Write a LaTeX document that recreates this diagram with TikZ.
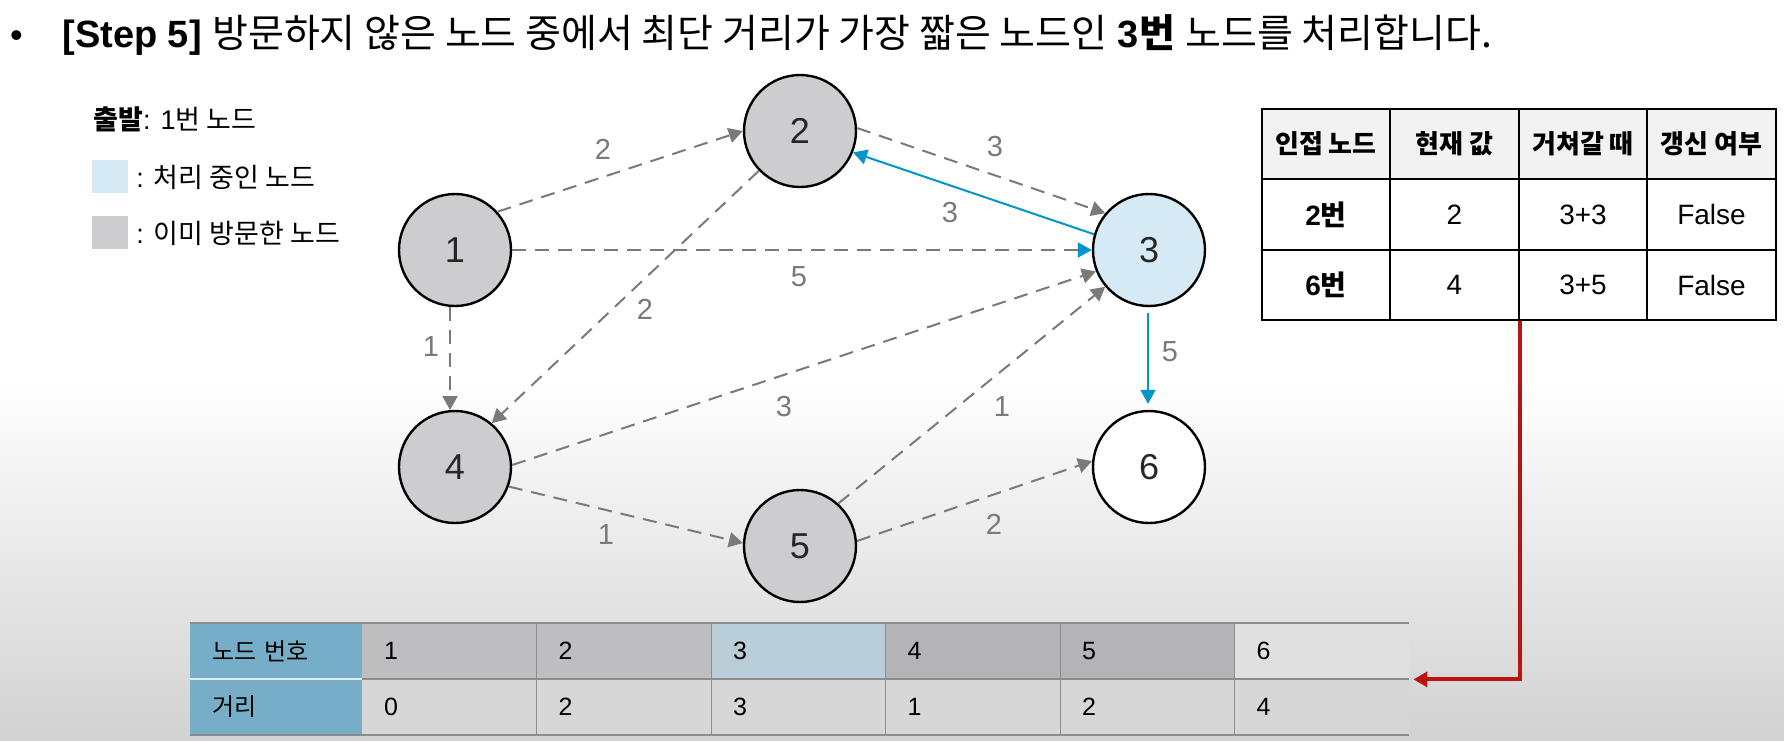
\documentclass[tikz,border=0pt]{standalone}
\usepackage{fontspec}
\setmainfont{Liberation Sans}
\newfontfamily\kr{Noto Sans CJK KR}
\usetikzlibrary{arrows.meta}
\definecolor{nodegray}{RGB}{205,205,208}
\definecolor{nodeblue}{RGB}{214,234,246}
\definecolor{edgegray}{RGB}{122,122,122}
\definecolor{edgeblue}{RGB}{0,150,205}
\definecolor{arrowred}{RGB}{185,20,15}
\definecolor{headgray}{RGB}{242,242,242}
\definecolor{bggray}{RGB}{210,210,210}
\definecolor{keyblue}{RGB}{118,174,200}
\definecolor{cellgray}{RGB}{190,190,192}
\definecolor{celldark}{RGB}{180,180,182}
\definecolor{cellblue}{RGB}{186,206,218}
\definecolor{celllight}{RGB}{215,215,215}
\definecolor{lastcell}{RGB}{224,224,224}
\definecolor{linegray}{RGB}{140,140,140}

\begin{document}
\begin{tikzpicture}[x=0.5pt,y=-0.5pt,
    vert/.style={circle,draw,line width=1.2pt,minimum size=56pt,inner sep=0pt,text=black!85,font=\fontsize{18}{20}\selectfont},
    wt/.style={text=edgegray,inner sep=1pt,font=\fontsize{14.5}{16}\selectfont},
    gedge/.style={edgegray,line width=1pt,dash pattern=on 7pt off 4.5pt,-{Triangle[length=7pt,width=7.5pt]}},
    bedge/.style={edgeblue,line width=1pt,-{Triangle[length=7pt,width=7.5pt]}},
    legbox/.style={rectangle,minimum width=18pt,minimum height=16.5pt,inner sep=0pt},
    legtxt/.style={anchor=west,inner sep=0pt,font=\fontsize{13.5}{15}\selectfont},
    tcell/.style={rectangle,draw,fill=white,line width=1pt,minimum width=64.25pt,minimum height=35.25pt,inner sep=0pt,font=\fontsize{14}{16}\selectfont},
    thead/.style={tcell,fill=headgray,font=\fontsize{13}{15}\selectfont},
    dkey/.style={rectangle,fill=keyblue,minimum width=86pt,minimum height=28pt,inner xsep=11pt,inner ysep=0pt,text width=64pt,align=left,font=\fontsize{12}{14}\selectfont},
    dval/.style={rectangle,minimum width=87.25pt,minimum height=28pt,inner xsep=11pt,inner ysep=0pt,text width=65.25pt,align=left,font=\fontsize{12.5}{14}\selectfont},
    redarrow/.style={arrowred,line width=2pt,-{Triangle[length=7pt,width=7.5pt]}}]
  \useasboundingbox (0,0) rectangle (1784,740);
  \fill[white] (0,0) rectangle (1784,740);
  \shade[top color=white,bottom color=bggray] (0,380) rectangle (1784,740);

  \node[anchor=base,inner sep=0pt,font=\fontsize{18}{20}\selectfont] (dot) at (16.5,47) {•};
  \node[anchor=base west,inner sep=0pt,font=\fontsize{19}{22}\selectfont\bfseries] (title) at (62,47)
    {[Step 5] {\kr\mdseries\fontsize{19.5}{22}\selectfont 방문하지 않은 노드 중에서 최단 거리가 가장 짧은 노드인} 3{\kr\fontsize{19.5}{22}\selectfont 번} {\kr\mdseries\fontsize{19.5}{22}\selectfont 노드를 처리합니다.}};

  \node[legtxt,anchor=base west] (start) at (93,129) {{\kr\bfseries 출발}: 1{\kr 번 노드}};
  \node[legbox,fill=nodeblue] (keycur) at (110,176.5) {};
  \node[legtxt] (keycurtxt) at (136,177) {: {\kr 처리 중인 노드}};
  \node[legbox,fill=nodegray] (keydone) at (110,232.5) {};
  \node[legtxt] (keydonetxt) at (136,233) {: {\kr 이미 방문한 노드}};

  \node[vert,fill=nodegray] (n1) at (455,250) {1};
  \node[vert,fill=nodegray] (n2) at (800,131) {2};
  \node[vert,fill=nodeblue] (n3) at (1149,250) {3};
  \node[vert,fill=nodegray] (n4) at (455,467) {4};
  \node[vert,fill=nodegray] (n5) at (800,546) {5};
  \node[vert,fill=white] (n6) at (1149,467) {6};

  \draw[gedge] (n1.42) -- (n2.180);
  \draw[gedge] (n2.3) -- (n3.140);
  \draw[bedge] (n3.164) -- (n2.-22);
  \draw[gedge,-{Triangle[length=7pt,width=7.5pt,color=edgeblue]}] (n1.0) -- (n3.180);
  \draw[gedge] (n2.-136) -- (n4.50);
  \draw[gedge] (n1.-95) -- (n4.95);
  \draw[gedge] (n4.2) -- (n3.202);
  \draw[gedge] (n5.48) -- (n3.220);
  \draw[gedge] (n4.-20) -- (n5.177);
  \draw[gedge] (n5.5) -- (n6.174);
  \draw[bedge,shorten <=3pt,shorten >=3pt] (n3.-91) -- (n6.91);

  \node[wt] (w12) at (603,149) {2};
  \node[wt] (w23) at (995,147) {3};
  \node[wt] (w32) at (950,213) {3};
  \node[wt] (w13) at (799,277) {5};
  \node[wt] (w24) at (645,309) {2};
  \node[wt] (w14) at (431,347) {1};
  \node[wt] (w43) at (784,407) {3};
  \node[wt] (w53) at (1002,407) {1};
  \node[wt] (w45) at (606,535) {1};
  \node[wt] (w56) at (994,524) {2};
  \node[wt] (w36) at (1170,352) {5};

  \node[thead] (t11) at (1326,144) {\kr\bfseries 인접 노드};
  \node[thead] (t12) at (1454.5,144) {\kr\bfseries 현재 값};
  \node[thead] (t13) at (1583,144) {\kr\bfseries 거쳐갈 때};
  \node[thead] (t14) at (1711.5,144) {\kr\bfseries 갱신 여부};
  \node[tcell] (t21) at (1326,214.5) {\bfseries 2{\kr 번}};
  \node[tcell] (t22) at (1454.5,214.5) {2};
  \node[tcell] (t23) at (1583,214.5) {3+3};
  \node[tcell] (t24) at (1711.5,214.5) {False};
  \node[tcell] (t31) at (1326,285) {\bfseries 6{\kr 번}};
  \node[tcell] (t32) at (1454.5,285) {4};
  \node[tcell] (t33) at (1583,285) {3+5};
  \node[tcell] (t34) at (1711.5,285) {False};

  \node[dkey] (dk1) at (276,651) {\kr 노드 번호};
  \node[dval,fill=cellgray] (d1) at (449.25,651) {1};
  \node[dval,fill=cellgray] (d2) at (623.75,651) {2};
  \node[dval,fill=cellblue] (d3) at (798.25,651) {3};
  \node[dval,fill=celldark] (d4) at (972.75,651) {4};
  \node[dval,fill=celldark] (d5) at (1147.25,651) {5};
  \node[dval,fill=lastcell] (d6) at (1321.75,651) {6};
  \node[dkey] (dk2) at (276,707) {\kr 거리};
  \node[dval,fill=celllight] (e1) at (449.25,707) {0};
  \node[dval,fill=celllight] (e2) at (623.75,707) {2};
  \node[dval,fill=celllight] (e3) at (798.25,707) {3};
  \node[dval,fill=celllight] (e4) at (972.75,707) {1};
  \node[dval,fill=celllight] (e5) at (1147.25,707) {2};
  \node[dval,fill=celllight] (e6) at (1321.75,707) {4};
  \draw[linegray,line width=1pt] (dk1.north west) -- (d6.north east);
  \draw[white!80!keyblue,line width=1pt] (dk1.south west) -- (dk1.south east);
  \draw[linegray,line width=1pt] (d1.south west) -- (d6.south east);
  \draw[linegray,line width=1pt] (dk2.south west) -- (e6.south east);
  \foreach \i in {1,...,5}
    \draw[linegray,line width=0.5pt] (d\i.north east) -- (e\i.south east);

  \draw[redarrow,shorten >=2pt] (t32.south east) |- (d6.south east);
\end{tikzpicture}
\end{document}
